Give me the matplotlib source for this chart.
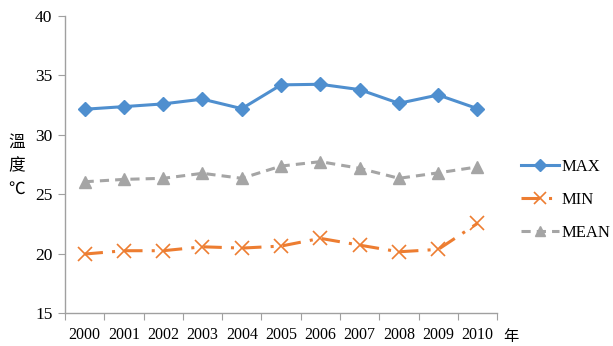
import matplotlib
matplotlib.use("Agg")
import matplotlib.pyplot as plt
from matplotlib.ticker import FixedLocator, NullFormatter

years = ["2000", "2001", "2002", "2003", "2004", "2005", "2006", "2007", "2008", "2009", "2010"]
max_vals = [32.15, 32.37, 32.6, 33.0, 32.2, 34.2, 34.25, 33.8, 32.65, 33.35, 32.2]
min_vals = [19.97, 20.25, 20.25, 20.58, 20.47, 20.64, 21.29, 20.72, 20.16, 20.36, 22.55]
mean_vals = [26.05, 26.25, 26.34, 26.76, 26.34, 27.37, 27.74, 27.18, 26.34, 26.8, 27.3]
y_ticks = [15, 20, 25, 30, 35, 40]

serif = ["Liberation Serif", "DejaVu Serif"]
cjk = ["Noto Sans CJK TC", "DejaVu Sans"]

fig = plt.figure(figsize=(6.13, 3.46), dpi=100)
ax = fig.add_axes([0.106, 0.095, 0.705, 0.859])

x = list(range(len(years)))
blue = "#4f8fcf"
orange = "#ed7d31"
gray = "#a5a5a5"

ax.plot(x, max_vals, color=blue, lw=2.2, marker="D", ms=7, label="MAX")
ax.plot(x, min_vals, color=orange, lw=2.2, ls=(0, (6, 3, 1, 3)), marker="x", ms=10,
        mew=1.2, label="MIN")
ax.plot(x, mean_vals, color=gray, lw=2.2, ls=(0, (3, 2)), marker="^", ms=8, label="MEAN")

ax.set_xlim(-0.5, len(years) - 0.5)
ax.set_ylim(15, 40)
ax.set_yticks(y_ticks)
ax.set_yticklabels([str(v) for v in y_ticks], family=serif, fontsize=12.5)

ax.xaxis.set_major_locator(FixedLocator([i - 0.5 for i in range(len(years) + 1)]))
ax.xaxis.set_major_formatter(NullFormatter())
ax.xaxis.set_minor_locator(FixedLocator(x))
ax.set_xticklabels(years, minor=True, family=serif, fontsize=11.5)
ax.tick_params(axis="x", which="minor", length=0, pad=10)
ax.tick_params(axis="x", which="major", length=5, color="#a0a0a0")
ax.tick_params(axis="y", length=5, color="#a0a0a0", pad=4)

for s in ["top", "right"]:
    ax.spines[s].set_visible(False)
for s in ["left", "bottom"]:
    ax.spines[s].set_color("#a0a0a0")
    ax.spines[s].set_linewidth(1.0)

fig.text(0.027, 0.522, "溫\n度\n℃", family=cjk, fontsize=12, ha="center", va="center",
         linespacing=1.5)
fig.text(0.834, 0.028, "年", family=cjk, fontsize=11, ha="center", va="center")

leg = ax.legend(loc="center left", bbox_to_anchor=(0.850, 0.422), bbox_transform=fig.transFigure,
                frameon=False, handlelength=2.3, labelspacing=1.0, handletextpad=0.12,
                borderpad=0, borderaxespad=0, markerscale=0.85,
                prop={"family": serif, "size": 12})

fig.savefig("out.png", dpi=100)
